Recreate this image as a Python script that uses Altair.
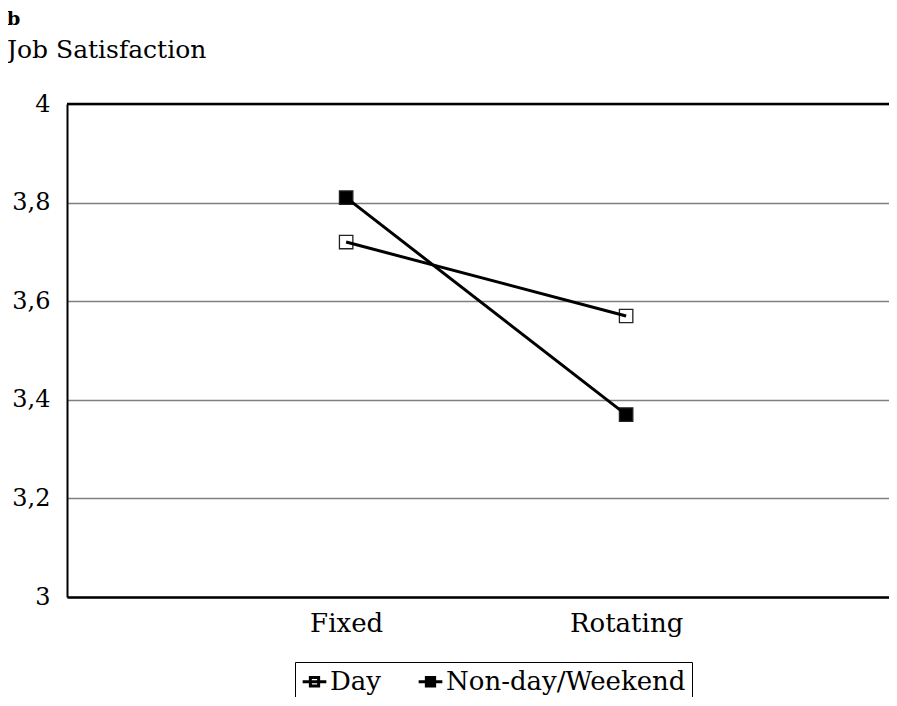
import altair as alt
import pandas as pd

schedules = ["Fixed", "Rotating"]
series_names = ["Day", "Non-day/Weekend"]
day_values = [3.72, 3.57]
nonday_values = [3.81, 3.37]
y_ticks = [3, 3.2, 3.4, 3.6, 3.8, 4]

rows = []
for s, vals in zip(series_names, [day_values, nonday_values]):
    for sch, v in zip(schedules, vals):
        rows.append({"schedule": sch, "series": s, "value": v})
df = pd.DataFrame(rows)

FONT = "DejaVu Serif"

x_enc = alt.X("schedule:N", sort=schedules,
              scale=alt.Scale(type="point", padding=0.968, align=0.515),
              axis=alt.Axis(title=None, labelFont=FONT, labelFontSize=26, labelColor="black",
                            ticks=False, labelPadding=13, domainColor="black",
                            domainWidth=2.5, labelAngle=0, grid=False))
y_enc = alt.Y("value:Q", scale=alt.Scale(domain=[3, 4], nice=False, zero=False),
              axis=alt.Axis(title=None, values=y_ticks, labelFont=FONT, labelFontSize=24,
                            labelColor="black", ticks=False, labelPadding=17,
                            domainColor="black", domainWidth=2,
                            grid=True, gridColor="#808080", gridWidth=1.5,
                            labelExpr="replace(format(datum.value, '~g'), '.', ',')"))

base = alt.Chart(df)

top_rule = alt.Chart(pd.DataFrame({"v": [4]})).mark_rule(color="black", strokeWidth=2.5).encode(
    y=alt.Y("v:Q", scale=alt.Scale(domain=[3, 4], nice=False, zero=False))
)

squares = base.mark_square(size=180, stroke="#222", strokeWidth=1.3, opacity=1).encode(
    x=x_enc, y=y_enc,
    fill=alt.Fill("series:N",
                  scale=alt.Scale(domain=series_names, range=["white", "black"]),
                  legend=alt.Legend(
                      title=None, orient="none", legendX=228, legendY=558,
                      direction="horizontal", strokeColor="black", padding=6,
                      labelFont=FONT, labelFontSize=26, labelColor="black",
                      labelOffset=2, columnPadding=30, labelLimit=400,
                      symbolType="M-1,0H1M-0.35,-0.35H0.35V0.35H-0.35Z",
                      symbolSize=560, symbolStrokeColor="black", symbolStrokeWidth=3,
                      symbolOpacity=1)),
)

lines = base.mark_line(color="black", strokeWidth=3).encode(
    x=x_enc, y=y_enc, detail="series:N"
)

chart = alt.layer(top_rule, squares, lines).properties(
    width=822, height=493,
    padding={"left": 59, "top": 96, "right": 0, "bottom": 100},
    autosize=alt.AutoSizeParams(type="none"),
    title=alt.TitleParams(
        text="b", subtitle="Job Satisfaction", anchor="start", frame="group",
        dx=-60, offset=29, font=FONT, fontSize=19, fontWeight="bold", color="black",
        subtitleFont=FONT, subtitleFontSize=25, subtitleColor="black", subtitlePadding=9),
).configure_view(stroke=None).configure(background="white")

chart.save("out.html", embed_options={"renderer": "svg", "actions": False})
